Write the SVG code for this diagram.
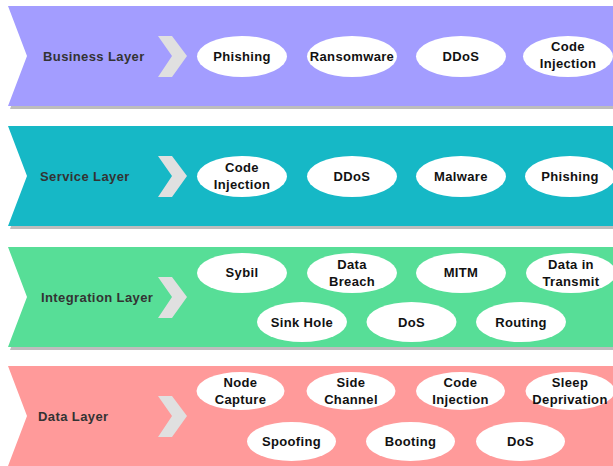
<svg xmlns="http://www.w3.org/2000/svg" width="613" height="466" viewBox="0 0 613 466">
<style>
.shadow{fill:#bdbdbd}
.chev{fill:#e0e0e0}
.lbl{font-family:"Liberation Sans",Arial,sans-serif;font-size:13px;font-weight:bold;fill:#333333;letter-spacing:0.4px}
.node ellipse{fill:#ffffff}
.node text{font-family:"Liberation Sans",Arial,sans-serif;font-size:13px;font-weight:bold;fill:#111111;text-anchor:middle;letter-spacing:0.35px}
</style>
<defs>
<path id="band" d="M8,0 L625,0 L625,100 L8,100 L27,50 Z"/>
<path id="chevron" d="M158,-20 L172,-20 L187,0 L172,21 L158,21 L172,0 Z"/>
</defs>
<g id="connectors"/>
<g id="business-layer">
<use href="#band" class="shadow" transform="translate(2,3) translate(0,6)"/>
<use href="#band" transform="translate(0,6)" fill="#a39dff"/>
<use href="#chevron" class="chev" transform="translate(0,56)"/>
<text class="lbl" x="43" y="61">Business Layer</text>
</g>
<g id="service-layer">
<use href="#band" class="shadow" transform="translate(2,3) translate(0,126)"/>
<use href="#band" transform="translate(0,126)" fill="#16b8c6"/>
<use href="#chevron" class="chev" transform="translate(0,176)"/>
<text class="lbl" x="40" y="181">Service Layer</text>
</g>
<g id="integration-layer">
<use href="#band" class="shadow" transform="translate(2,3) translate(0,247)"/>
<use href="#band" transform="translate(0,247)" fill="#57de97"/>
<use href="#chevron" class="chev" transform="translate(0,297)"/>
<text class="lbl" x="41" y="302">Integration Layer</text>
</g>
<g id="data-layer">
<use href="#band" class="shadow" transform="translate(2,3) translate(0,366)"/>
<use href="#band" transform="translate(0,366)" fill="#ff9a9a"/>
<use href="#chevron" class="chev" transform="translate(0,416)"/>
<text class="lbl" x="38" y="421">Data Layer</text>
</g>

<g id="b-phishing" class="node"><ellipse cx="242" cy="56.5" rx="45" ry="20.5"/><text x="242" y="61">Phishing</text></g>
<g id="b-ransomware" class="node"><ellipse cx="352" cy="56.5" rx="45" ry="20.5"/><text x="352" y="61">Ransomware</text></g>
<g id="b-ddos" class="node"><ellipse cx="461" cy="56.5" rx="45" ry="20.5"/><text x="461" y="61">DDoS</text></g>
<g id="b-code-injection" class="node"><ellipse cx="568" cy="56.5" rx="45" ry="20.5"/><text x="568" y="51">Code</text><text x="568" y="68">Injection</text></g>

<g id="s-code-injection" class="node"><ellipse cx="242" cy="176.5" rx="45" ry="20.5"/><text x="242" y="172">Code</text><text x="242" y="189">Injection</text></g>
<g id="s-ddos" class="node"><ellipse cx="352" cy="176.5" rx="45" ry="20.5"/><text x="352" y="181">DDoS</text></g>
<g id="s-malware" class="node"><ellipse cx="461" cy="176.5" rx="45" ry="20.5"/><text x="461" y="181">Malware</text></g>
<g id="s-phishing" class="node"><ellipse cx="570" cy="176.5" rx="45" ry="20.5"/><text x="570" y="181">Phishing</text></g>

<g id="i-sybil" class="node"><ellipse cx="242" cy="273" rx="45" ry="20"/><text x="242" y="277">Sybil</text></g>
<g id="i-data-breach" class="node"><ellipse cx="352" cy="273" rx="45" ry="20"/><text x="352" y="269">Data</text><text x="352" y="286">Breach</text></g>
<g id="i-mitm" class="node"><ellipse cx="461" cy="273" rx="45" ry="20"/><text x="461" y="277">MITM</text></g>
<g id="i-data-in-transmit" class="node"><ellipse cx="571" cy="273" rx="45" ry="20"/><text x="571" y="269">Data in</text><text x="571" y="286">Transmit</text></g>
<g id="i-sink-hole" class="node"><ellipse cx="302" cy="322" rx="45" ry="20"/><text x="302" y="327">Sink Hole</text></g>
<g id="i-dos" class="node"><ellipse cx="411.5" cy="322" rx="45" ry="20"/><text x="411.5" y="327">DoS</text></g>
<g id="i-routing" class="node"><ellipse cx="521" cy="322" rx="45" ry="20"/><text x="521" y="327">Routing</text></g>

<g id="d-node-capture" class="node"><ellipse cx="240.5" cy="391" rx="44" ry="19"/><text x="240.5" y="387">Node</text><text x="240.5" y="404">Capture</text></g>
<g id="d-side-channel" class="node"><ellipse cx="351" cy="391" rx="44.5" ry="19"/><text x="351" y="387">Side</text><text x="351" y="404">Channel</text></g>
<g id="d-code-injection" class="node"><ellipse cx="460.5" cy="391" rx="44.5" ry="19"/><text x="460.5" y="387">Code</text><text x="460.5" y="404">Injection</text></g>
<g id="d-sleep-deprivation" class="node"><ellipse cx="570" cy="391" rx="44.5" ry="19"/><text x="570" y="387">Sleep</text><text x="570" y="404">Deprivation</text></g>
<g id="d-spoofing" class="node"><ellipse cx="291.5" cy="441.5" rx="44.5" ry="19.5"/><text x="291.5" y="446">Spoofing</text></g>
<g id="d-booting" class="node"><ellipse cx="410.5" cy="441.5" rx="44.5" ry="19.5"/><text x="410.5" y="446">Booting</text></g>
<g id="d-dos" class="node"><ellipse cx="520.5" cy="441.5" rx="44.5" ry="19.5"/><text x="520.5" y="446">DoS</text></g>
</svg>
